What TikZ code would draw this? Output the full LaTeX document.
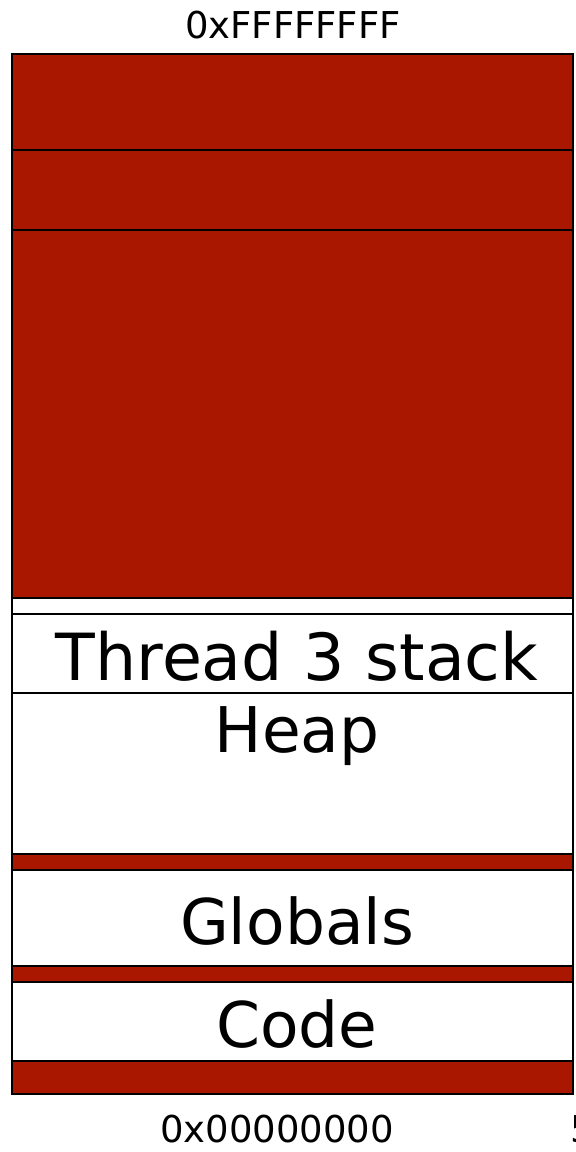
\documentclass[tikz,border=0pt]{standalone}
\usepackage{fontspec}
\setmainfont{DejaVu Sans}
\usetikzlibrary{positioning}
\definecolor{unmapped}{RGB}{170,23,0}

\begin{document}
\begin{tikzpicture}[x=1pt, y=-1pt,
    free/.style={draw, line width=2pt, fill=unmapped},
    used/.style={draw, line width=2pt, fill=white},
    seglbl/.style={font=\fontsize{63}{63}\selectfont, anchor=base, inner sep=0pt},
    addr/.style={font=\fontsize{37}{37}\selectfont, anchor=base, inner sep=0pt},
]
\useasboundingbox (0,0) rectangle (576,1152);
% unmapped top of the address space
\draw[free] (12,54) rectangle (573,150);
\draw[free] (12,150) rectangle (573,230);
\draw[free] (12,230) rectangle (573,598);
% stack and heap
\draw[used] (12,598) rectangle (573,614);
\draw[used] (12,614) rectangle (573,693);
\draw[used] (12,693) rectangle (573,854);
\draw[free] (12,854) rectangle (573,870);
% globals and code
\draw[used] (12,870) rectangle (573,966);
\draw[free] (12,966) rectangle (573,982);
\draw[used] (12,982) rectangle (573,1061);
\draw[free] (12,1061) rectangle (573,1094);
% labels
\node[seglbl, font=\fontsize{65}{65}\selectfont] (stack) at (297,680) {Thread 3 stack};
\node[seglbl] (heap) at (297,752) {Heap};
\node[seglbl] (glob) at (297,944) {Globals};
\node[seglbl] (code) at (297,1047) {Code};
\node[addr] (top) at (293,38) {0xFFFFFFFF};
\node[addr] (bottom) at (277,1142) {0x00000000};
\node[addr, anchor=base west] (cut) at (570,1142) {5};
\end{tikzpicture}
\end{document}
